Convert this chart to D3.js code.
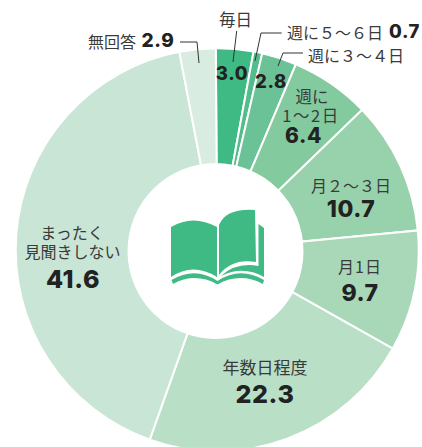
<!DOCTYPE html>
<html>
<head>
<meta charset="utf-8">
<script src="https://cdn.jsdelivr.net/npm/d3@7"></script>
<style>
body { margin: 0; background: #fff; }
text { font-family: "Noto Sans CJK JP", sans-serif; fill: #3a3a3a; text-anchor: middle; dominant-baseline: central; }
.num { font-family: "Inter", sans-serif; font-weight: 800; fill: #222; letter-spacing: 0.6px; }
</style>
</head>
<body>
<div id="chart"></div>
<script>
var categories = ["毎日", "週に５～６日", "週に３～４日", "週に１～２日", "月２～３日", "月１日", "年数日程度", "まったく見聞きしない", "無回答"];
var values = [3.0, 0.7, 2.8, 6.4, 10.7, 9.7, 22.3, 41.6, 2.9];
var colors = ["#40ba84", "#52bd8b", "#6cc297", "#83cb9f", "#98d2ad", "#a8d8b8", "#b9dfc7", "#c8e5d5", "#d8ece1"];

function init(){

    var w = 422;
    var h = 447;
    var cx = 217.2;
    var cy = 249.8;

    var svg = d3.select("#chart")
                .append("svg")
                .attr("width", w)
                .attr("height", h)
                .style("display", "block");

    // the original is turned back a hair from 12 o'clock
    var turn = -0.4 * Math.PI / 180;
    var pie = d3.pie().sort(null).startAngle(turn).endAngle(2 * Math.PI + turn);
    var arc = d3.arc().innerRadius(0).outerRadius(201.5);

    svg.append("g")
        .attr("transform", "translate(" + cx + "," + cy + ")")
        .selectAll("path")
        .data(pie(values))
        .enter()
        .append("path")
        .attr("d", arc)
        .attr("fill", function(d, i){ return colors[i]; })
        .attr("stroke", "#fff")
        .attr("stroke-width", 2);

    // hole
    svg.append("circle")
        .attr("cx", 215.5)
        .attr("cy", 251)
        .attr("r", 88)
        .attr("fill", "#fff");

    // book icon
    var book = svg.append("g").attr("fill", "#40ba84");
    book.append("path").attr("d", "M171,227 Q193,214 217,227 L217,277 Q193,262 171,277 Z");
    book.append("path").attr("d", "M219,225 Q226,208 255,210 L256,262 Q232,258 219,275 Z");
    book.append("path").attr("d", "M258.5,224 L264,228 L264,277 Q243,265 221,276 Q236,262 258.5,266 Z");
    book.append("path").attr("d", "M171.5,280 Q195,266 217.5,281 Q240,266 264,280 L263,284 Q240,272 217.5,284.5 Q195,272 173,284 Z");

    // leader lines
    var leaders = [
        [[236.7, 31], [233, 62]],
        [[281.7, 33], [261, 33], [255, 61]],
        [[303, 53], [283, 53], [278, 66]],
        [[180, 42], [197, 42], [199, 63]]
    ];
    svg.selectAll("polyline")
        .data(leaders)
        .enter()
        .append("polyline")
        .attr("points", function(d){ return d.join(" "); })
        .attr("fill", "none")
        .attr("stroke", "#333")
        .attr("stroke-width", 1);

    // label text: [text, x, y, size, spacing]
    var labels = [
        ["毎日", 235.5, 19, 16.5, 0],
        ["週に５～６日", 335, 32, 16, 0],
        ["週に３～４日", 356, 55, 16, 0],
        ["週に", 312, 96, 16.5, 0],
        ["1～2日", 311, 115, 16.5, 1.5],
        ["月２～３日", 351, 185, 16, 0],
        ["月1日", 360, 266, 16, 1],
        ["年数日程度", 265, 366, 17, 0],
        ["まったく", 72, 232, 16, 0],
        ["見聞きしない", 72.5, 251, 16, 0],
        ["無回答", 112, 41, 16, 0]
    ];
    svg.selectAll("text.lab")
        .data(labels)
        .enter()
        .append("text")
        .attr("class", "lab")
        .attr("x", function(d){ return d[1]; })
        .attr("y", function(d){ return d[2]; })
        .attr("font-size", function(d){ return d[3]; })
        .attr("letter-spacing", function(d){ return d[4]; })
        .text(function(d){ return d[0]; });

    // value text, same order as values: [x, y, size]
    var numPos = [
        [232, 73, 18.5], [404.5, 31, 18.5], [271, 81, 18.5], [303.5, 135, 21], [351, 209, 23],
        [360, 293, 23], [265, 394, 25], [73, 279, 25], [158, 40, 19]
    ];
    svg.selectAll("text.num")
        .data(values)
        .enter()
        .append("text")
        .attr("class", "num")
        .attr("x", function(d, i){ return numPos[i][0]; })
        .attr("y", function(d, i){ return numPos[i][1]; })
        .attr("font-size", function(d, i){ return numPos[i][2]; })
        .text(function(d){ return d.toFixed(1); });
}
window.onload = init;
</script>
</body>
</html>
